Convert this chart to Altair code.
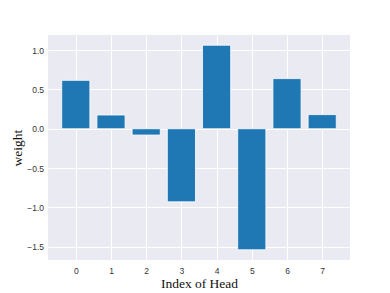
import altair as alt
import pandas as pd

heads = [0, 1, 2, 3, 4, 5, 6, 7]
weights = [0.616, 0.175, -0.08, -0.93, 1.063, -1.54, 0.638, 0.18]
x_ticks = [0, 1, 2, 3, 4, 5, 6, 7]
y_ticks = [-1.5, -1.0, -0.5, 0.0, 0.5, 1.0]

df = pd.DataFrame({"head": heads, "weight": weights})

bars = alt.Chart(df).transform_calculate(
    x0="datum.head - 0.4", x1="datum.head + 0.4"
).mark_rect(color="#1f77b4", stroke="white", strokeWidth=1, strokeOpacity=0.8).encode(
    x=alt.X("x0:Q", scale=alt.Scale(domain=[-0.79, 7.79], nice=False, zero=False),
            axis=alt.Axis(values=x_ticks, title="Index of Head", format="d",
                          labelFontSize=8.5, labelPadding=6, titleFontSize=13.5,
                          titleFont="Liberation Serif", titleFontWeight="normal",
                          titleX=151, titleY=27, titleBaseline="alphabetic",
                          titleAlign="center", titleColor="#111")),
    x2="x1:Q",
    y=alt.Y("weight:Q", scale=alt.Scale(domain=[-1.67, 1.193], nice=False, zero=False),
            axis=alt.Axis(values=y_ticks, title="weight", format=".1f",
                          labelFontSize=8.5, labelPadding=4.5, titleFontSize=13.5,
                          titleFont="Liberation Serif", titleFontWeight="normal",
                          titleX=-27, titleY=112.5, titleBaseline="alphabetic",
                          titleAlign="center", titleAngle=270, titleColor="#111")),
    y2=alt.datum(0),
)

chart = bars.properties(
    width=302, height=225,
    autosize=alt.AutoSizeParams(type="none"),
    padding={"left": 40, "top": 27, "right": 32, "bottom": 29},
    background="white",
).configure_view(fill="#eaeaf2", stroke=None).configure_axis(
    grid=True, gridColor="white", gridWidth=1, gridOpacity=1,
    domain=False, ticks=False, labelColor="#333", labelFont="Liberation Sans",
)

chart.save("out.html", embed_options={"renderer": "svg", "actions": False})
